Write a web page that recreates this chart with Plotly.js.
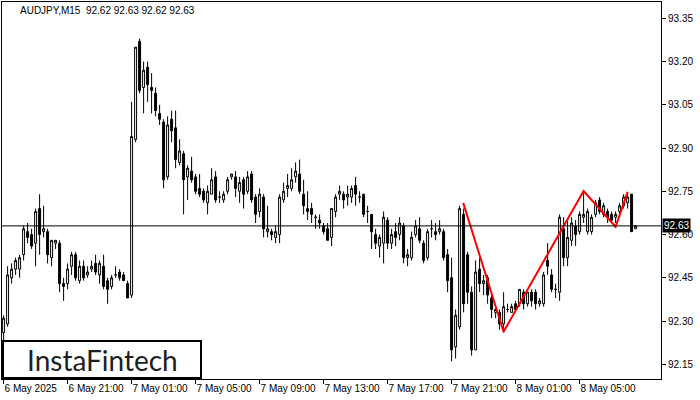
<!DOCTYPE html>
<html>
<head>
<meta charset="utf-8">
<script src="https://cdn.plot.ly/plotly-3.0.1.min.js"></script>
<style>html,body{margin:0;padding:0;background:#fff}#chart{width:700px;height:400px}</style>
</head>
<body>
<div id="chart"></div>
<script>
// AUDJPY M15 bars, 6 May 17:00 .. 8 May 08:30 (one bar per 15 minutes)
const opens = [
92.26,92.29,92.45,92.48,92.48,92.53,92.61,92.60,92.57,92.69,
92.61,92.61,92.52,92.57,92.57,92.43,92.43,92.49,92.53,92.44,
92.49,92.46,92.48,92.50,92.46,92.49,92.44,92.42,92.46,92.47,
92.46,92.43,92.39,92.93,93.27,93.11,93.18,93.11,93.09,93.02,
92.99,92.80,93.00,92.97,92.85,92.88,92.80,92.82,92.80,92.76,
92.75,92.71,92.74,92.80,92.73,92.72,92.75,92.80,92.80,92.75,
92.79,92.75,92.81,92.73,92.68,92.73,92.61,92.61,92.59,92.60,
92.72,92.76,92.76,92.80,92.81,92.74,92.69,92.69,92.66,92.65,
92.63,92.62,92.59,92.68,92.74,92.74,92.73,92.73,92.77,92.73,
92.74,92.68,92.67,92.60,92.56,92.57,92.65,92.57,92.61,92.60,
92.63,92.52,92.52,92.60,92.62,92.57,92.52,92.62,92.61,92.61,
92.61,92.53,92.45,92.21,92.28,92.67,92.53,92.40,92.20,92.48,
92.43,92.45,92.38,92.33,92.33,92.29,92.34,92.33,92.36,92.36,
92.40,92.36,92.40,92.40,92.36,92.36,92.51,92.46,92.41,92.40,
92.62,92.52,92.58,92.63,92.61,92.66,92.61,92.61,92.67,92.72,
92.67,92.68,92.67,92.66,92.68,92.70,92.71,92.74,92.62];
const highs = [
92.32,92.49,92.50,92.52,92.53,92.63,92.64,92.62,92.69,92.74,
92.70,92.62,92.58,92.58,92.58,92.45,92.50,92.54,92.54,92.51,
92.51,92.49,92.51,92.53,92.51,92.53,92.45,92.46,92.49,92.48,
92.47,92.44,93.06,93.25,93.28,93.20,93.20,93.16,93.11,93.05,
93.00,93.01,93.03,93.03,92.93,92.89,92.84,92.87,92.81,92.81,
92.76,92.77,92.83,92.82,92.75,92.75,92.80,92.81,92.82,92.80,
92.80,92.82,92.82,92.74,92.76,92.74,92.70,92.62,92.63,92.74,
92.78,92.81,92.83,92.85,92.86,92.79,92.75,92.71,92.67,92.67,
92.64,92.64,92.69,92.74,92.77,92.75,92.77,92.77,92.80,92.75,
92.74,92.70,92.67,92.62,92.60,92.68,92.66,92.62,92.64,92.66,
92.64,92.55,92.61,92.65,92.66,92.58,92.62,92.65,92.64,92.65,
92.62,92.55,92.52,92.34,92.70,92.69,92.54,92.42,92.51,92.52,
92.46,92.46,92.39,92.35,92.34,92.40,92.36,92.36,92.37,92.41,
92.41,92.40,92.41,92.41,92.38,92.47,92.57,92.48,92.43,92.67,
92.66,92.65,92.66,92.65,92.68,92.75,92.69,92.67,92.72,92.73,
92.71,92.69,92.68,92.68,92.71,92.74,92.74,92.74,92.63];
const lows = [
92.22,92.28,92.43,92.46,92.45,92.51,92.57,92.55,92.49,92.53,
92.59,92.50,92.49,92.55,92.40,92.37,92.41,92.46,92.44,92.43,
92.44,92.45,92.47,92.46,92.43,92.41,92.36,92.41,92.45,92.44,
92.44,92.38,92.38,92.92,93.09,93.02,93.06,93.02,93.01,92.98,
92.76,92.79,92.92,92.83,92.84,92.67,92.72,92.78,92.74,92.73,
92.71,92.67,92.74,92.71,92.71,92.71,92.74,92.79,92.73,92.71,
92.69,92.74,92.71,92.64,92.66,92.59,92.59,92.58,92.57,92.57,
92.71,92.73,92.75,92.78,92.74,92.67,92.65,92.64,92.62,92.62,
92.60,92.58,92.56,92.66,92.72,92.69,92.70,92.71,92.70,92.71,
92.66,92.64,92.55,92.55,92.52,92.50,92.55,92.55,92.56,92.58,
92.50,92.49,92.51,92.59,92.57,92.50,92.51,92.59,92.58,92.60,
92.51,92.40,92.16,92.17,92.27,92.33,92.36,92.18,92.20,92.40,
92.39,92.36,92.31,92.31,92.27,92.26,92.33,92.33,92.33,92.35,
92.34,92.35,92.35,92.34,92.35,92.35,92.46,92.40,92.38,92.37,
92.49,92.49,92.56,92.56,92.60,92.64,92.60,92.60,92.66,92.67,
92.66,92.64,92.64,92.64,92.66,92.69,92.69,92.61,92.62];
const closes = [
92.31,92.46,92.48,92.51,92.52,92.62,92.59,92.56,92.68,92.60,
92.62,92.53,92.58,92.58,92.43,92.42,92.48,92.53,92.45,92.49,
92.45,92.47,92.49,92.47,92.50,92.42,92.41,92.45,92.46,92.45,
92.44,92.38,92.94,93.25,93.10,93.17,93.12,93.10,93.03,93.00,
92.79,92.98,92.96,92.86,92.89,92.79,92.83,92.79,92.75,92.74,
92.72,92.75,92.79,92.72,92.73,92.74,92.79,92.81,92.76,92.78,
92.74,92.80,92.72,92.67,92.74,92.62,92.62,92.60,92.61,92.73,
92.75,92.77,92.79,92.82,92.75,92.70,92.68,92.67,92.66,92.64,
92.61,92.58,92.69,92.73,92.75,92.72,92.74,92.76,92.74,92.73,
92.67,92.68,92.61,92.57,92.59,92.66,92.57,92.60,92.59,92.64,
92.52,92.53,92.59,92.63,92.58,92.51,92.61,92.62,92.60,92.62,
92.52,92.44,92.20,92.32,92.69,92.36,92.40,92.20,92.47,92.43,
92.44,92.39,92.34,92.34,92.29,92.35,92.34,92.35,92.34,92.41,
92.36,92.40,92.37,92.36,92.37,92.46,92.49,92.41,92.41,92.66,
92.52,92.59,92.64,92.60,92.67,92.67,92.68,92.66,92.71,92.68,
92.70,92.66,92.65,92.67,92.70,92.73,92.73,92.61,92.63];

// time-axis labels (every 16 bars = 4 hours)
const xTickBars = [0,16,32,48,64,80,96,112,128,144];
const xTickLabels = ["6 May 2025","6 May 21:00","7 May 01:00","7 May 05:00","7 May 09:00",
                     "7 May 13:00","7 May 17:00","7 May 21:00","8 May 01:00","8 May 05:00"];
// price-axis ticks
const yTicks = [92.15,92.30,92.45,92.60,92.75,92.90,93.05,93.20,93.35];

// current price
const lastPrice = 92.63;
const headerText = "AUDJPY,M15  92.62 92.63 92.62 92.63";

// drawn pattern (red zig-zag): bar position and price of each vertex
const patternBars = [114.9, 125, 145, 153, 156];
const patternPrices = [92.71, 92.263, 92.751, 92.627, 92.748];

const barIdx = opens.map((_, i) => i);

const traces = [
  {
    type: 'candlestick',
    x: barIdx, open: opens, high: highs, low: lows, close: closes,
    increasing: {line: {color: '#000000', width: 1}, fillcolor: '#ffffff'},
    decreasing: {line: {color: '#000000', width: 1}, fillcolor: '#000000'},
    whiskerwidth: 0,
    hoverinfo: 'skip',
    showlegend: false
  },
  {
    type: 'scatter', mode: 'lines',
    x: patternBars, y: patternPrices,
    line: {color: '#ff0000', width: 2},
    hoverinfo: 'skip', showlegend: false
  }
];

const plotL = 2, plotR = 661, plotT = 2, plotB = 379;
const pw = plotR - plotL, ph = plotB - plotT;
const px = v => (v - plotL) / pw;
const py = v => (plotB - v) / ph;

const tickFont = {family: 'Liberation Sans, Arial, sans-serif', size: 10, color: '#000000'};

const layout = {
  width: 700, height: 400,
  margin: {l: plotL, r: 700 - plotR, t: plotT, b: 400 - plotB, pad: 0},
  paper_bgcolor: '#ffffff', plot_bgcolor: '#ffffff',
  showlegend: false,
  xaxis: {
    range: [-0.4, 164.35],
    tickvals: xTickBars, ticktext: xTickLabels,
    ticks: 'outside', ticklen: 4, tickwidth: 1, tickcolor: '#000000',
    ticklabelposition: 'outside right',
    tickangle: 0,
    tickfont: tickFont,
    showline: true, mirror: true, linecolor: '#000000', linewidth: 1,
    showgrid: false, zeroline: false,
    rangeslider: {visible: false},
    fixedrange: true
  },
  yaxis: {
    side: 'right',
    range: [92.099, 93.4065],
    tickvals: yTicks, tickformat: '.2f',
    ticks: 'outside', ticklen: 4, tickwidth: 1, tickcolor: '#000000',
    tickfont: tickFont,
    showline: true, mirror: true, linecolor: '#000000', linewidth: 1,
    showgrid: false, zeroline: false,
    fixedrange: true
  },
  shapes: [
    {type: 'line', xref: 'paper', yref: 'y', x0: 0, x1: 1, y0: lastPrice, y1: lastPrice,
     line: {color: '#000000', width: 1}, layer: 'above'},
    {type: 'rect', xref: 'paper', yref: 'paper',
     x0: px(3), x1: px(201), y0: py(378), y1: py(341),
     fillcolor: '#ffffff', line: {color: '#000000', width: 2}, layer: 'above'}
  ],
  annotations: [
    {xref: 'paper', yref: 'paper', x: px(18), y: py(11), xanchor: 'left', yanchor: 'middle',
     text: headerText, showarrow: false,
     font: {family: 'Liberation Sans, Arial, sans-serif', size: 10, color: '#000000'}},
    {xref: 'paper', yref: 'y', x: 1, y: lastPrice, xanchor: 'left', yanchor: 'middle', xshift: 1,
     text: lastPrice.toFixed(2), showarrow: false, bgcolor: '#000000', borderpad: 1,
     font: {family: 'Liberation Sans, Arial, sans-serif', size: 10, color: '#ffffff'}},
    {xref: 'paper', yref: 'paper', x: px(102), y: py(359.5), xanchor: 'center', yanchor: 'middle',
     text: 'InstaFintech', showarrow: false,
     font: {family: 'Lato, sans-serif', size: 28, color: '#1e1e1e'}}
  ]
};

Plotly.newPlot('chart', traces, layout, {staticPlot: true, displayModeBar: false});
</script>
</body>
</html>
